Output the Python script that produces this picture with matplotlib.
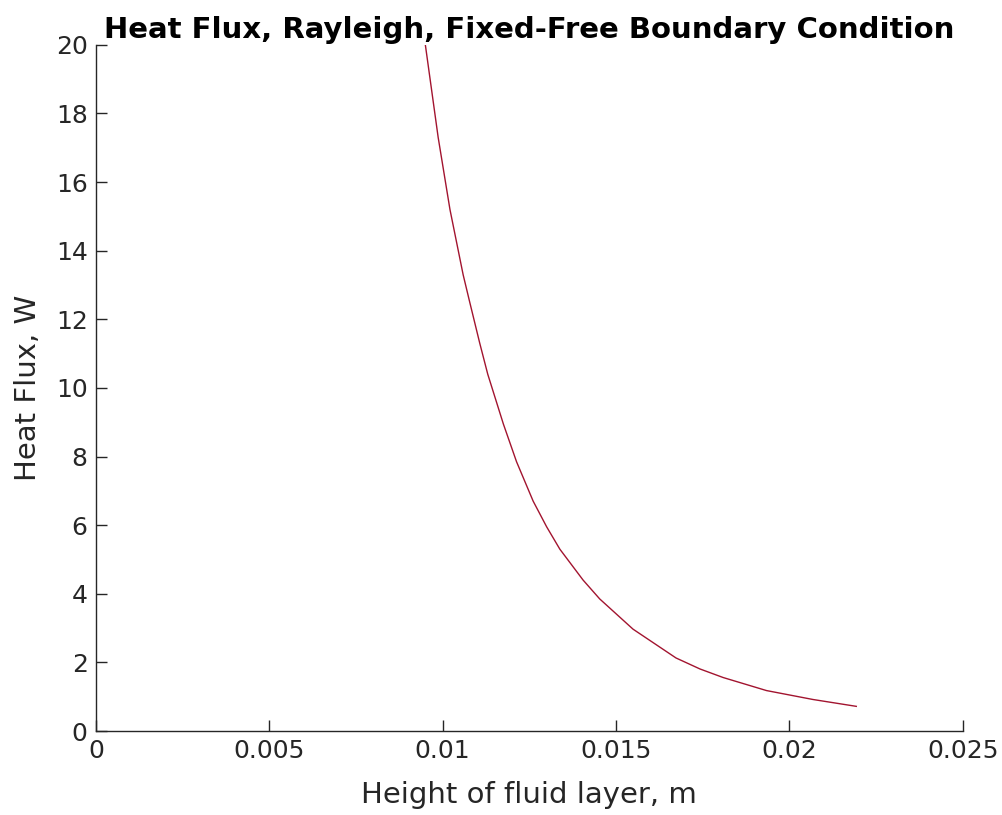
#!/usr/bin/env python3
"""
Heat flux vs fluid layer height (Rayleigh, fixed-free)
"""
import matplotlib
matplotlib.use('Agg')
import matplotlib.pyplot as plt

plt.rcParams['font.family'] = ['DejaVu Sans']

# 读取自图片的数据
height = [0.0095, 0.00987, 0.01021, 0.01059, 0.01078, 0.01107, 0.01130, 0.01175,
          0.01213, 0.01261, 0.01300, 0.01338, 0.01405, 0.01453, 0.01549,
          0.01673, 0.01742, 0.01809, 0.01934, 0.02068, 0.02193]
heat_flux = [20.0, 17.3, 15.2, 13.3, 12.5, 11.3, 10.4, 8.95,
             7.85, 6.70, 5.95, 5.30, 4.40, 3.85, 2.97,
             2.13, 1.81, 1.56, 1.18, 0.92, 0.72]

xticks = [0, 0.005, 0.01, 0.015, 0.02, 0.025]
xticklabels = ['0', '0.005', '0.01', '0.015', '0.02', '0.025']
yticks = list(range(0, 21, 2))

dark = '#262626'

fig = plt.figure(figsize=(10.02, 8.15), dpi=100)
ax = fig.add_axes([0.0958, 0.103, 0.865, 0.842])

ax.plot(height, heat_flux, color='#a2142f', linewidth=1.0)

ax.set_xlim(0, 0.025)
ax.set_ylim(0, 20)
ax.set_xticks(xticks)
ax.set_xticklabels(xticklabels)
ax.set_yticks(yticks)

for side in ['top', 'right']:
    ax.spines[side].set_visible(False)
for side in ['left', 'bottom']:
    ax.spines[side].set_color(dark)
    ax.spines[side].set_linewidth(1.0)

ax.tick_params(direction='in', length=8, width=1, colors=dark,
               labelsize=18, pad=6)

ax.set_title('Heat Flux, Rayleigh, Fixed-Free Boundary Condition',
             fontsize=21, fontweight='bold', color='black', pad=5)
ax.set_xlabel('Height of fluid layer, m', fontsize=21, color=dark, labelpad=13)
ax.set_ylabel('Heat Flux, W', fontsize=21, color=dark, labelpad=10)

plt.savefig('out.png', dpi=100)
